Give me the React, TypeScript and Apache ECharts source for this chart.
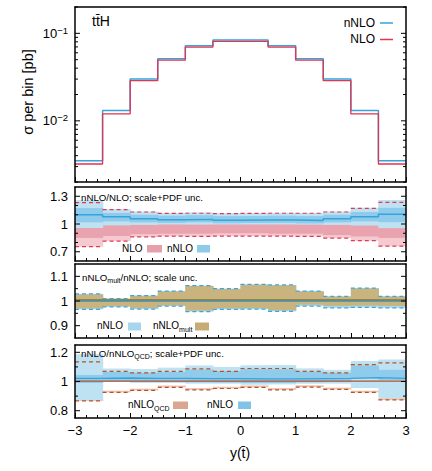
import React, { useEffect, useRef } from 'react';
import * as echarts from 'echarts';

// ---------- data ----------
const binEdges = [-3, -2.5, -2, -1.5, -1, -0.5, 0, 0.5, 1, 1.5, 2, 2.5, 3];
const xTickLabels = ['−3', '−2', '−1', '0', '1', '2', '3'];

// top panel: sigma per bin [pb]
const sigmaNLO = [0.00321, 0.0120, 0.0288, 0.0493, 0.0697, 0.0809, 0.0809, 0.0697, 0.0493, 0.0288, 0.0120, 0.00321];
const sigmaNNLO = [0.00350, 0.0131, 0.0300, 0.0511, 0.0721, 0.0838, 0.0838, 0.0721, 0.0511, 0.0300, 0.0131, 0.00350];

// panel 2: nNLO/NLO; scale+PDF unc.
const r1NloTotHi = [1.232, 1.155, 1.13, 1.115, 1.116, 1.112, 1.114, 1.116, 1.116, 1.13, 1.17, 1.233];
const r1NloTotLo = [0.755, 0.815, 0.86, 0.868, 0.866, 0.87, 0.87, 0.868, 0.866, 0.848, 0.82, 0.76];
const r1NloScaleHi = [1.15, 1.13, 1.11, 1.105, 1.105, 1.1, 1.1, 1.105, 1.105, 1.12, 1.135, 1.15];
const r1NloScaleLo = [0.85, 0.87, 0.89, 0.895, 0.895, 0.9, 0.9, 0.895, 0.895, 0.88, 0.865, 0.85];
const r1NnloCen = [1.1, 1.078, 1.058, 1.046, 1.05, 1.04, 1.042, 1.044, 1.038, 1.058, 1.078, 1.105];
const r1NnloTotHi = [1.258, 1.16, 1.135, 1.12, 1.125, 1.117, 1.12, 1.122, 1.12, 1.135, 1.175, 1.26];
const r1NnloTotLo = [0.957, 0.985, 0.99, 0.995, 0.993, 0.995, 0.995, 0.995, 0.993, 0.99, 0.983, 0.955];
const r1NnloScaleHi = [1.172, 1.12, 1.1, 1.09, 1.095, 1.085, 1.087, 1.09, 1.085, 1.1, 1.13, 1.175];
const r1NnloScaleLo = [1.018, 1.028, 1.018, 1.012, 1.018, 1.008, 1.01, 1.012, 1.006, 1.018, 1.028, 1.02];

// panel 3: nNLO_mult/nNLO; scale unc.
const r2NnloHi = [1.029, 1.01, 1.022, 1.04, 1.062, 1.05, 1.067, 1.065, 1.04, 1.019, 1.052, 1.019];
const r2NnloLo = [0.966, 0.976, 0.967, 0.979, 0.957, 0.966, 0.967, 0.958, 0.979, 0.972, 0.974, 0.972];
const r2MultHi = [1.027, 1.009, 1.021, 1.039, 1.061, 1.049, 1.066, 1.064, 1.039, 1.018, 1.051, 1.018];
const r2MultLo = [0.97, 0.979, 0.971, 0.982, 0.961, 0.97, 0.971, 0.962, 0.985, 0.98, 0.981, 0.98];
const r2NnloCen = [0.999, 0.999, 0.999, 0.999, 0.999, 0.999, 0.999, 0.999, 0.999, 0.999, 0.999, 0.999];
const r2MultCen = [1.004, 1.004, 1.004, 1.004, 1.004, 1.004, 1.004, 1.004, 1.004, 1.004, 1.004, 1.004];

// panel 4: nNLO/nNLO_QCD; scale+PDF unc.
const r3QcdHi = [1.135, 1.07, 1.059, 1.07, 1.087, 1.07, 1.089, 1.089, 1.07, 1.059, 1.115, 1.128];
const r3QcdLo = [0.867, 0.925, 0.939, 0.96, 0.943, 0.952, 0.96, 0.943, 0.962, 0.946, 0.925, 0.874];
const r3QcdStripHi = [1.123, 1.058, 1.047, 1.058, 1.075, 1.058, 1.077, 1.077, 1.058, 1.047, 1.103, 1.116];
const r3QcdStripLo = [0.879, 0.937, 0.951, 0.972, 0.955, 0.964, 0.972, 0.955, 0.974, 0.958, 0.937, 0.886];
const r3QcdCen = [1.003, 1.003, 1.003, 1.003, 1.003, 1.003, 1.003, 1.003, 1.003, 1.003, 1.003, 1.003];
const r3NnloCen = [1.022, 1.024, 1.022, 1.022, 1.02, 1.02, 1.018, 1.018, 1.02, 1.022, 1.026, 1.022];
const r3NnloTotHi = [1.186, 1.089, 1.085, 1.095, 1.11, 1.1, 1.112, 1.112, 1.09, 1.08, 1.14, 1.15];
const r3NnloTotLo = [0.872, 0.998, 0.99, 0.99, 0.985, 0.985, 0.978, 0.98, 0.985, 0.985, 0.955, 0.885];
const r3NnloScaleHi = [1.045, 1.065, 1.06, 1.065, 1.082, 1.072, 1.085, 1.085, 1.068, 1.06, 1.11, 1.08];
const r3NnloScaleLo = [0.99, 1.0, 1.0, 0.998, 0.995, 0.993, 0.99, 0.99, 0.995, 0.998, 1.02, 1.01];

// y ticks
const topTicks = [0.002, 0.003, 0.004, 0.005, 0.006, 0.007, 0.008, 0.009, 0.01, 0.02, 0.03, 0.04, 0.05, 0.06, 0.07, 0.08, 0.09, 0.1, 0.2];
const topMajor = [0.01, 0.1];
const r1Ticks = [0.7, 0.8, 0.9, 1.0, 1.1, 1.2, 1.3];
const r1Labels = [0.7, 1, 1.3];
const r2Ticks = [0.9, 0.95, 1.0, 1.05, 1.1];
const r2Labels = [0.9, 1, 1.1];
const r3Ticks = [0.8, 0.9, 1.0, 1.1, 1.2];
const r3Labels = [0.8, 1, 1.2];

// ---------- colours ----------
const BLUE = '#38a2dc';
const RED = '#e2354f';
const FONT = '"Liberation Sans", Arial, Helvetica, sans-serif';

const near = (a: number, b: number) => Math.abs(a - b) < 1e-6;

function stepData(vals: number[]) {
  return binEdges.map((x, i) => [x, vals[Math.min(i, vals.length - 1)]]);
}

function lineSeries(grid: number, vals: number[], color: string, width: number, z: number) {
  return {
    type: 'line', xAxisIndex: grid, yAxisIndex: grid, step: 'end', showSymbol: false, symbol: 'none',
    data: stepData(vals), lineStyle: { color, width }, z, silent: true,
  };
}

function bandSeries(grid: number, lo: number[], hi: number[], color: string, z: number) {
  return {
    type: 'custom', xAxisIndex: grid, yAxisIndex: grid, z, silent: true,
    data: lo.map((l, i) => [binEdges[i], binEdges[i + 1], l, hi[i]]),
    encode: { x: [0, 1], y: [2, 3] },
    renderItem: (params: any, api: any) => {
      const a = api.coord([api.value(0), api.value(3)]);
      const b = api.coord([api.value(1), api.value(2)]);
      const last = params.dataIndex === lo.length - 1;
      return {
        type: 'rect',
        shape: { x: a[0], y: a[1], width: b[0] - a[0] + (last ? 0 : 0.6), height: b[1] - a[1] },
        style: { fill: color },
      };
    },
  };
}

function dashSeries(grid: number, vals: number[], color: string, z: number) {
  return {
    type: 'custom', xAxisIndex: grid, yAxisIndex: grid, z, silent: true,
    data: vals.map((v, i) => [binEdges[i], binEdges[i + 1], v]),
    encode: { x: [0, 1], y: 2 },
    renderItem: (params: any, api: any) => {
      const a = api.coord([api.value(0), api.value(2)]);
      const b = api.coord([api.value(1), api.value(2)]);
      return {
        type: 'line',
        shape: { x1: a[0], y1: a[1], x2: b[0], y2: b[1] },
        style: { stroke: color, lineWidth: 1.2, lineDash: [4, 3] },
      };
    },
  };
}

function tickSeries(grid: number, ticks: number[], majors: number[]) {
  return {
    type: 'custom', xAxisIndex: grid, yAxisIndex: grid, z: 20, silent: true,
    data: ticks.map((v) => [0, v, majors.some((m) => near(m, v)) ? 5 : 3]),
    encode: { x: 0, y: 1 },
    renderItem: (params: any, api: any) => {
      const v = api.value(1);
      const len = api.value(2);
      const l = api.coord([-3, v]);
      const r = api.coord([3, v]);
      return {
        type: 'group',
        children: [
          { type: 'line', shape: { x1: l[0], y1: l[1], x2: l[0] + len, y2: l[1] }, style: { stroke: '#000', lineWidth: 1 } },
          { type: 'line', shape: { x1: r[0] - len, y1: r[1], x2: r[0], y2: r[1] }, style: { stroke: '#000', lineWidth: 1 } },
        ],
      };
    },
  };
}

function measure(text: string, size: number) {
  const ctx = document.createElement('canvas').getContext('2d')!;
  ctx.font = `${size}px ${FONT}`;
  return ctx.measureText(text).width;
}

// parts: [text, fontSize, dy]
function richText(x: number, y: number, parts: [string, number, number][]) {
  let cx = x;
  const out: any[] = [];
  for (const [t, s, dy] of parts) {
    out.push({
      type: 'text', x: cx, y: y + dy, z: 100, silent: true,
      style: { text: t, fontSize: s, fontFamily: FONT, fill: '#000', align: 'left', verticalAlign: 'middle', textAlign: 'left', textVerticalAlign: 'middle' },
    });
    cx += measure(t, s);
  }
  return out;
}

function txt(x: number, y: number, t: string, size: number, align = 'left', extra: any = {}) {
  return {
    type: 'text', x, y, z: 100, silent: true, ...extra,
    style: { text: t, fontSize: size, fontFamily: FONT, fill: '#000', align, verticalAlign: 'middle', textAlign: align, textVerticalAlign: 'middle' },
  };
}

function box(x: number, y: number, w: number, h: number, color: string) {
  return { type: 'rect', z: 100, silent: true, shape: { x, y, width: w, height: h }, style: { fill: color } };
}

const GRIDS = [
  { left: 75, width: 331, top: 7, height: 175 },
  { left: 75, width: 331, top: 187, height: 74 },
  { left: 75, width: 331, top: 264, height: 74 },
  { left: 75, width: 331, top: 345, height: 73 },
];

const axisLine = { show: true, onZero: false, lineStyle: { color: '#000', width: 1.5 } };

function buildOption() {
  const xAxes: any[] = [];
  GRIDS.forEach((_, i) => {
    xAxes.push({
      gridIndex: i, type: 'value', min: -3, max: 3, interval: 1, position: 'bottom', z: 10,
      axisLine,
      axisTick: { show: true, inside: true, length: 5, lineStyle: { color: '#000', width: 1 } },
      minorTick: { show: true, splitNumber: 5, length: 3, lineStyle: { color: '#000', width: 1 } },
      splitLine: { show: false }, minorSplitLine: { show: false },
      axisLabel: {
        show: i === 3, margin: 6, color: '#000', fontSize: 13, fontFamily: FONT,
        formatter: (v: number) => xTickLabels[Math.round(v) + 3] ?? '',
      },
    });
  });
  GRIDS.forEach((_, i) => {
    xAxes.push({
      gridIndex: i, type: 'value', min: -3, max: 3, position: 'top', z: 10,
      axisLine, axisTick: { show: false }, axisLabel: { show: false }, splitLine: { show: false },
    });
  });

  const labelStyle = { color: '#000', fontSize: 13, fontFamily: FONT, margin: 7 };
  const ratioFmt = (labels: number[]) => (v: number) => (labels.some((l) => near(l, v)) ? String(Math.round(v * 100) / 100) : '');
  const yAxes: any[] = [
    {
      gridIndex: 0, type: 'log', logBase: 10, min: 0.002, max: 0.2, z: 10,
      axisLine, axisTick: { show: false }, minorTick: { show: false }, splitLine: { show: false }, minorSplitLine: { show: false },
      axisLabel: {
        ...labelStyle,
        formatter: (v: number) => (near(v, 0.1) ? '{b|10}{s|−1}' : near(v, 0.01) ? '{b|10}{s|−2}' : ''),
        rich: {
          b: { fontSize: 13, fontFamily: FONT, color: '#000' },
          s: { fontSize: 9.5, fontFamily: FONT, color: '#000', verticalAlign: 'top', padding: [0, 0, 6, 0] },
        },
      },
    },
    {
      gridIndex: 1, type: 'value', min: 0.6, max: 1.4, interval: 0.1, z: 10,
      axisLine, axisTick: { show: false }, splitLine: { show: false },
      axisLabel: { ...labelStyle, formatter: ratioFmt(r1Labels), showMinLabel: true, showMaxLabel: true },
    },
    {
      gridIndex: 2, type: 'value', min: 0.85, max: 1.15, interval: 0.05, z: 10,
      axisLine, axisTick: { show: false }, splitLine: { show: false },
      axisLabel: { ...labelStyle, formatter: ratioFmt(r2Labels) },
    },
    {
      gridIndex: 3, type: 'value', min: 0.75, max: 1.25, interval: 0.05, z: 10,
      axisLine, axisTick: { show: false }, splitLine: { show: false },
      axisLabel: { ...labelStyle, formatter: ratioFmt(r3Labels) },
    },
  ];
  GRIDS.forEach((_, i) => {
    yAxes.push({
      gridIndex: i, type: 'value', min: 0, max: 1, position: 'right', z: 10,
      axisLine, axisTick: { show: false }, axisLabel: { show: false }, splitLine: { show: false },
    });
  });

  const series: any[] = [
    // top panel
    lineSeries(0, sigmaNNLO, BLUE, 1.5, 5),
    lineSeries(0, sigmaNLO, RED, 1.3, 6),
    tickSeries(0, topTicks, topMajor),
    // panel 2
    bandSeries(1, r1NloTotLo, r1NloTotHi, '#f4c9d0', 1),
    bandSeries(1, r1NloScaleLo, r1NloScaleHi, '#e9a3ae', 2),
    bandSeries(1, r1NnloTotLo, r1NnloTotHi, '#bfe2f3', 3),
    bandSeries(1, r1NnloScaleLo, r1NnloScaleHi, '#8fcbea', 4),
    lineSeries(1, r1NnloCen, BLUE, 1.5, 5),
    dashSeries(1, r1NloTotHi, '#e23a55', 6),
    dashSeries(1, r1NloTotLo, '#e23a55', 6),
    tickSeries(1, r1Ticks, r1Labels),
    // panel 3
    bandSeries(2, r2NnloLo, r2NnloHi, '#a9d8ef', 1),
    bandSeries(2, r2MultLo, r2MultHi, '#c9b37e', 2),
    lineSeries(2, r2NnloCen, BLUE, 1.3, 3),
    lineSeries(2, r2MultCen, '#8a7433', 1.3, 4),
    dashSeries(2, r2NnloHi, '#3aa6e0', 6),
    dashSeries(2, r2NnloLo, '#3aa6e0', 6),
    tickSeries(2, r2Ticks, r2Labels),
    // panel 4
    bandSeries(3, r3QcdLo, r3QcdStripLo, '#ecc3ae', 1),
    bandSeries(3, r3QcdStripHi, r3QcdHi, '#ecc3ae', 1),
    bandSeries(3, r3NnloTotLo, r3NnloTotHi, '#bfe2f3', 2),
    bandSeries(3, r3NnloScaleLo, r3NnloScaleHi, '#8fcbea', 3),
    lineSeries(3, r3NnloCen, BLUE, 1.3, 4),
    lineSeries(3, r3QcdCen, '#b5522a', 1.3, 5),
    dashSeries(3, r3QcdHi, '#b5522a', 6),
    dashSeries(3, r3QcdLo, '#b5522a', 6),
    tickSeries(3, r3Ticks, r3Labels),
  ];

  const graphic: any[] = [
    // top panel labels
    txt(92, 21, 'tt\u0304H', 14),
    txt(375, 22.5, 'nNLO', 12, 'right'),
    { type: 'line', z: 100, silent: true, shape: { x1: 380, y1: 23, x2: 393, y2: 23 }, style: { stroke: BLUE, lineWidth: 1.5 } },
    txt(375, 39, 'NLO', 12, 'right'),
    { type: 'line', z: 100, silent: true, shape: { x1: 380, y1: 39.5, x2: 393, y2: 39.5 }, style: { stroke: RED, lineWidth: 1.5 } },
    txt(28, 92, 'σ per bin [pb]', 14.5, 'center', { rotation: Math.PI / 2 }),
    // panel 2
    txt(81, 197, 'nNLO/NLO; scale+PDF unc.', 9.7),
    txt(122, 248.5, 'NLO', 10),
    box(147, 245, 15, 7.5, '#e6a0ab'),
    txt(167, 248.5, 'nNLO', 10),
    box(197, 245, 13, 7.5, '#8ccbea'),
    // panel 3
    ...richText(82, 277, [['nNLO', 9.7, 0], ['mult', 7, 3.5], ['/nNLO; scale unc.', 9.7, 0]]),
    txt(97, 325.5, 'nNLO', 10),
    box(128, 322.5, 13, 8, '#a6d6ee'),
    ...richText(153, 325.5, [['nNLO', 10, 0], ['mult', 7, 3.8]]),
    box(195, 322.5, 14, 8, '#c6ad75'),
    // panel 4
    ...richText(81, 353, [['nNLO/nNLO', 9.7, 0], ['QCD', 7, 3.5], ['; scale+PDF unc.', 9.7, 0]]),
    ...richText(128, 404.5, [['nNLO', 10, 0], ['QCD', 7, 3.8]]),
    box(173, 401.5, 15, 7.5, '#d9a78f'),
    txt(207, 404.5, 'nNLO', 10),
    box(238, 401.5, 13, 7.5, '#80c3e7'),
    // x title
    txt(240, 453, 'y(t\u0304)', 14, 'center'),
  ];

  return {
    animation: false,
    backgroundColor: '#fff',
    grid: GRIDS.map((g) => ({ ...g, show: false, containLabel: false })),
    xAxis: xAxes,
    yAxis: yAxes,
    series,
    graphic,
  };
}

export default function App() {
  const ref = useRef<HTMLDivElement>(null);
  useEffect(() => {
    if (!ref.current) return;
    const chart = echarts.init(ref.current, null, { renderer: 'svg' });
    chart.setOption(buildOption() as any);
    return () => chart.dispose();
  }, []);
  return <div ref={ref} style={{ position: 'fixed', left: 0, top: 0, width: 432, height: 471, background: '#fff' }} />;
}
